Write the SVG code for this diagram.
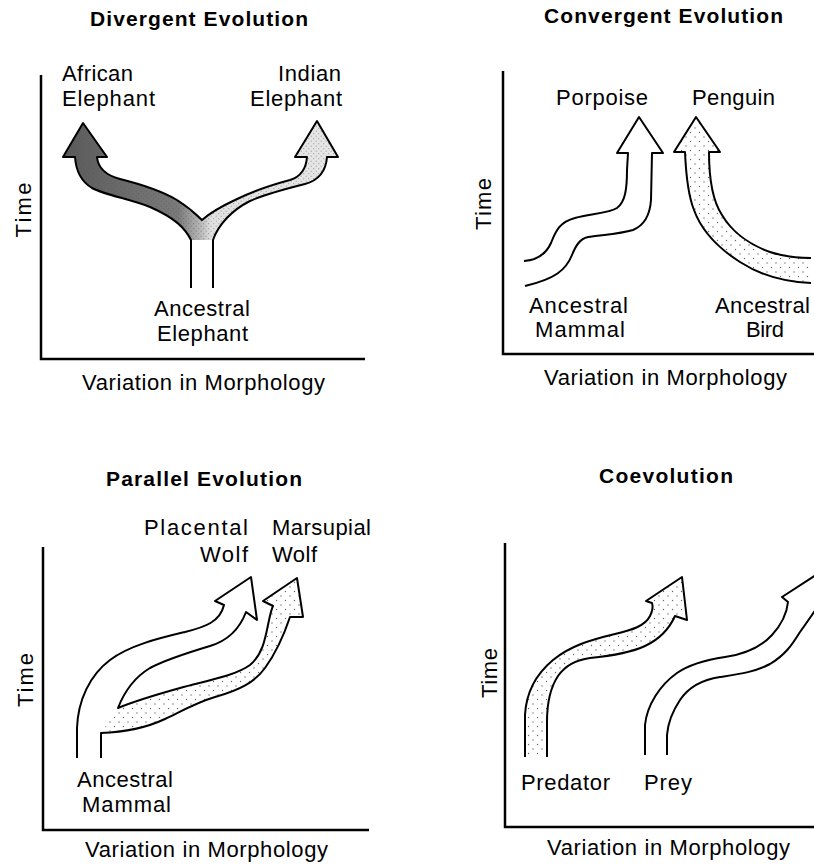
<svg xmlns="http://www.w3.org/2000/svg" width="814" height="866" viewBox="0 0 814 866">
<style>
text{font-family:"Liberation Sans",Arial,sans-serif;fill:#000}
.t{font-size:22px}
.h{font-size:21px;font-weight:bold}
.ax{fill:none;stroke:#000;stroke-width:2.5}
.ol{fill:none;stroke:#000;stroke-width:2;stroke-linejoin:round}
</style>
<defs>
<linearGradient id="divG" gradientUnits="userSpaceOnUse" x1="63" y1="0" x2="338" y2="0">
<stop offset="0" stop-color="#5a5a5a"/>
<stop offset="0.42" stop-color="#7a7a7a"/>
<stop offset="0.5" stop-color="#b8b8b8"/>
<stop offset="0.54" stop-color="#e2e2e2"/>
<stop offset="1" stop-color="#e6e6e6"/>
</linearGradient>
<pattern id="dense" width="5" height="5" patternUnits="userSpaceOnUse">
<circle cx="1.2" cy="1.2" r="0.6" fill="#555"/>
<circle cx="3.7" cy="3.7" r="0.6" fill="#555"/>
</pattern>
<pattern id="sparse" width="9" height="9" patternUnits="userSpaceOnUse">
<circle cx="2" cy="2" r="0.7" fill="#666"/>
<circle cx="6.5" cy="6.5" r="0.7" fill="#666"/>
</pattern>
</defs>

<!-- Divergent Evolution -->
<g id="divergent">
<text class="h" x="90" y="26" textLength="218" lengthAdjust="spacing">Divergent Evolution</text>
<path class="ax" d="M41,75 V359 H365"/>
<text class="t" transform="translate(31,210) rotate(-90)" text-anchor="middle" textLength="55" lengthAdjust="spacing">Time</text>
<text class="t" x="82" y="390" textLength="243" lengthAdjust="spacing">Variation in Morphology</text>
<text class="t" x="62" y="81" textLength="71" lengthAdjust="spacing">African</text>
<text class="t" x="62" y="106" textLength="93" lengthAdjust="spacing">Elephant</text>
<text class="t" x="278" y="81" textLength="63" lengthAdjust="spacing">Indian</text>
<text class="t" x="250" y="106" textLength="92" lengthAdjust="spacing">Elephant</text>
<text class="t" x="154" y="316" textLength="96" lengthAdjust="spacing">Ancestral</text>
<text class="t" x="157" y="341" textLength="91" lengthAdjust="spacing">Elephant</text>
</g>

<!-- Convergent Evolution -->
<g id="convergent">
<text class="h" x="544" y="23" textLength="239" lengthAdjust="spacing">Convergent Evolution</text>
<path class="ax" d="M503,71 V354 H814"/>
<text class="t" transform="translate(491,204) rotate(-90)" text-anchor="middle" textLength="52" lengthAdjust="spacing">Time</text>
<text class="t" x="544" y="385" textLength="243" lengthAdjust="spacing">Variation in Morphology</text>
<text class="t" x="556" y="105" textLength="92" lengthAdjust="spacing">Porpoise</text>
<text class="t" x="692" y="105" textLength="83" lengthAdjust="spacing">Penguin</text>
<text class="t" x="529" y="313" textLength="99" lengthAdjust="spacing">Ancestral</text>
<text class="t" x="535" y="337" textLength="90" lengthAdjust="spacing">Mammal</text>
<text class="t" x="715" y="313" textLength="95" lengthAdjust="spacing">Ancestral</text>
<text class="t" x="746" y="337" textLength="38" lengthAdjust="spacing">Bird</text>
</g>

<!-- Parallel Evolution -->
<g id="parallel">
<text class="h" x="106" y="486" textLength="196" lengthAdjust="spacing">Parallel Evolution</text>
<path class="ax" d="M43,547 V830 H369"/>
<text class="t" transform="translate(33,680) rotate(-90)" text-anchor="middle" textLength="54" lengthAdjust="spacing">Time</text>
<text class="t" x="85" y="857" textLength="243" lengthAdjust="spacing">Variation in Morphology</text>
<text class="t" x="144" y="535" textLength="104" lengthAdjust="spacing">Placental</text>
<text class="t" x="200" y="562" textLength="48" lengthAdjust="spacing">Wolf</text>
<text class="t" x="272" y="535" textLength="99" lengthAdjust="spacing">Marsupial</text>
<text class="t" x="272" y="562" textLength="45" lengthAdjust="spacing">Wolf</text>
<text class="t" x="77" y="787" textLength="96" lengthAdjust="spacing">Ancestral</text>
<text class="t" x="82" y="812" textLength="89" lengthAdjust="spacing">Mammal</text>
</g>

<!-- Coevolution -->
<g id="coevolution">
<text class="h" x="599" y="483" textLength="134" lengthAdjust="spacing">Coevolution</text>
<path class="ax" d="M505,543 V827 H814"/>
<text class="t" transform="translate(497,673) rotate(-90)" text-anchor="middle" textLength="50" lengthAdjust="spacing">Time</text>
<text class="t" x="547" y="855" textLength="243" lengthAdjust="spacing">Variation in Morphology</text>
<text class="t" x="521" y="790" textLength="89" lengthAdjust="spacing">Predator</text>
<text class="t" x="644" y="790" textLength="48" lengthAdjust="spacing">Prey</text>
</g>

<!-- arrows (connectors) -->
<g id="arrows">
<!-- divergent Y arrow -->
<path fill="url(#divG)" stroke="none" d="M191,240 C185,228 175,218 150,207 C130,199 105,195 92,188 C82,182 76,172 75,157 L63,157 L83,123 L107,157 L97,157 C98,168 105,175 120,179 C140,184 160,190 177,200 C188,207 196,214 202,220 C210,213 220,207 235,200 C255,190 275,184 290,180 C300,177 306,170 307,157 L295,157 L317,121 L338,157 L327,157 C326,170 320,180 305,184 C285,189 265,194 250,201 C232,210 218,225 213,240 Z"/>
<path fill="url(#dense)" stroke="none" opacity="0.5" d="M191,240 C185,228 175,218 150,207 C130,199 105,195 92,188 C82,182 76,172 75,157 L63,157 L83,123 L107,157 L97,157 C98,168 105,175 120,179 C140,184 160,190 177,200 C188,207 196,214 202,220 C210,213 220,207 235,200 C255,190 275,184 290,180 C300,177 306,170 307,157 L295,157 L317,121 L338,157 L327,157 C326,170 320,180 305,184 C285,189 265,194 250,201 C232,210 218,225 213,240 Z"/>
<path class="ol" d="M191,288 L191,240 C185,228 175,218 150,207 C130,199 105,195 92,188 C82,182 76,172 75,157 L63,157 L83,123 L107,157 L97,157 C98,168 105,175 120,179 C140,184 160,190 177,200 C188,207 196,214 202,220 C210,213 220,207 235,200 C255,190 275,184 290,180 C300,177 306,170 307,157 L295,157 L317,121 L338,157 L327,157 C326,170 320,180 305,184 C285,189 265,194 250,201 C232,210 218,225 213,240 L213,288"/>

<!-- porpoise -->
<path class="ol" d="M524,261 C538,260 546,254 551,243 C556,230 560,222 575,218 C590,214 610,213 617,208 C625,202 627,190 627,170 L628,153 L617,153 L639,117 L663,153 L652,153 L651,200 C650,215 645,225 633,230 C620,234 600,235 588,237 C580,239 576,245 572,255 C566,270 555,279 525,286"/>
<!-- penguin -->
<path fill="url(#sparse)" stroke="none" d="M811,283 C785,282 760,275 740,262 C718,248 702,232 694,210 C688,195 686,175 685,152 L674,152 L696,117 L720,152 L709,152 C709,175 712,200 722,215 C732,232 750,245 770,252 C785,257 798,258 811,258 Z"/>
<path class="ol" d="M811,283 C785,282 760,275 740,262 C718,248 702,232 694,210 C688,195 686,175 685,152 L674,152 L696,117 L720,152 L709,152 C709,175 712,200 722,215 C732,232 750,245 770,252 C785,257 798,258 811,258"/>

<!-- parallel -->
<path fill="url(#sparse)" stroke="none" d="M118,708 C130,703 155,695 180,688 C205,681 235,676 250,665 C262,655 265,640 268,625 C270,615 271,610 273,606 L263,601 L297,578 L303,617 L290,617 C285,632 278,650 265,668 C255,682 240,690 215,697 C195,703 180,712 165,719 C150,726 130,732 101,733 Z"/>
<path class="ol" d="M77,758 L77,728 C78,700 90,675 110,660 C130,645 160,638 185,632 C205,627 220,622 224,605 L215,601 L251,577 L257,620 L246,612 C240,628 230,640 210,646 C190,652 165,660 150,668 C135,677 125,690 118,708 C130,703 155,695 180,688 C205,681 235,676 250,665 C262,655 265,640 268,625 C270,615 271,610 273,606 L263,601 L297,578 L303,617 L290,617 C285,632 278,650 265,668 C255,682 240,690 215,697 C195,703 180,712 165,719 C150,726 130,732 101,733 L101,758"/>

<!-- predator -->
<path fill="url(#sparse)" stroke="none" d="M525,757 L525,715 C526,695 535,675 553,660 C570,646 590,640 615,634 C632,630 645,626 650,616 C653,610 653,606 652,603 L646,601 L682,577 L687,620 L675,616 C671,625 662,638 645,646 C630,653 610,656 590,658 C575,660 565,666 558,676 C550,688 547,705 547,722 L547,757 Z"/>
<path class="ol" d="M525,757 L525,715 C526,695 535,675 553,660 C570,646 590,640 615,634 C632,630 645,626 650,616 C653,610 653,606 652,603 L646,601 L682,577 L687,620 L675,616 C671,625 662,638 645,646 C630,653 610,656 590,658 C575,660 565,666 558,676 C550,688 547,705 547,722 L547,757"/>
<!-- prey -->
<path class="ol" d="M645,755 L645,725 C647,705 660,685 677,673 C690,664 705,660 725,657 C745,654 760,648 772,635 C782,624 787,612 788,602 L782,597 L816,575"/>
<path class="ol" d="M816,609 C810,618 805,625 800,632 C792,645 785,655 770,664 C755,672 740,674 720,677 C700,680 688,688 680,700 C672,712 668,722 667,735 L667,755"/>
</g>
</svg>
